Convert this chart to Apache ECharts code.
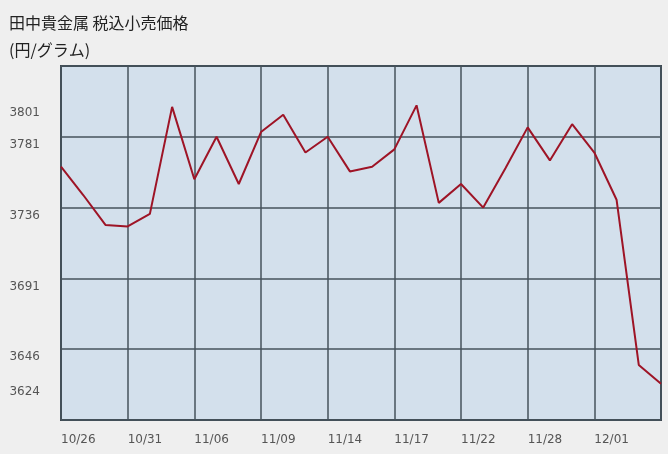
<!DOCTYPE html>
<html>
<head>
<meta charset="utf-8">
<script src="https://cdn.jsdelivr.net/npm/echarts@6/dist/echarts.min.js"></script>
<style>
html,body{margin:0;padding:0;background:#efefef;}
#chart{width:668px;height:454px;}
</style>
</head>
<body>
<div id="chart"></div>
<script>
// Business days shown on the chart
const categories = ['10/26','10/27','10/30','10/31','11/01','11/02','11/06','11/07','11/08','11/09',
  '11/10','11/13','11/14','11/15','11/16','11/17','11/20','11/21','11/22','11/24',
  '11/27','11/28','11/29','11/30','12/01','12/04','12/05','12/06'];
// Retail price incl. tax (yen / gram)
const prices = [3762,3744,3725,3724,3732,3800,3754,3781,3751,3784,
  3795,3771,3781,3759,3762,3773,3801,3739,3751,3736,
  3761,3787,3766,3789,3771,3741,3636,3624];
// Labelled dates on the x axis
const xTickLabels = ['10/26','10/31','11/06','11/09','11/14','11/17','11/22','11/28','12/01'];
// Labelled values on the y axis
const yTickLabels = [3801,3781,3736,3691,3646,3624];
const yMin = 3601, yMax = 3826;

const chart = echarts.init(document.getElementById('chart'), null, {renderer:'canvas'});
const gridIdx = (i) => i % 3 === 0;
chart.setOption({
  backgroundColor:'#efefef',
  animation:false,
  title:{
    text:'田中貴金属 税込小売価格\n(円/グラム)',
    left:9, top:9, padding:0,
    textStyle:{fontFamily:'"Noto Sans CJK JP", sans-serif', fontSize:16, fontWeight:'normal', color:'#222', lineHeight:27}
  },
  grid:{left:61, right:7, top:66, bottom:34, show:true, backgroundColor:'#d3e0ec', borderColor:'#3d4750', borderWidth:2},
  xAxis:{
    type:'category', data:categories, boundaryGap:false,
    axisLine:{show:false}, axisTick:{show:false},
    axisLabel:{
      interval:(i, v) => xTickLabels.indexOf(v) >= 0,
      align:'left', margin:14,
      fontFamily:'"DejaVu Sans", sans-serif', fontSize:12, color:'#555'
    },
    splitLine:{show:true, interval:(i) => gridIdx(i), lineStyle:{color:'#46535c', width:1.5}}
  },
  yAxis:[
    {type:'value', min:0, max:5, interval:1, axisLabel:{show:false}, axisLine:{show:false}, axisTick:{show:false},
     splitLine:{show:true, lineStyle:{color:'#46535c', width:1.5}}},
    {type:'value', min:yMin, max:yMax, interval:1, position:'left',
     axisLine:{show:false}, axisTick:{show:false}, splitLine:{show:false},
     axisLabel:{
       formatter:(v) => yTickLabels.indexOf(v) >= 0 ? String(v) : '',
       margin:21, verticalAlign:'top', lineHeight:16,
       fontFamily:'"DejaVu Sans", sans-serif', fontSize:12, color:'#555'
     }}
  ],
  series:[{
    type:'line', yAxisIndex:1, data:prices, symbol:'none', smooth:false,
    lineStyle:{color:'#9e1426', width:2}
  }]
});
</script>
</body>
</html>
